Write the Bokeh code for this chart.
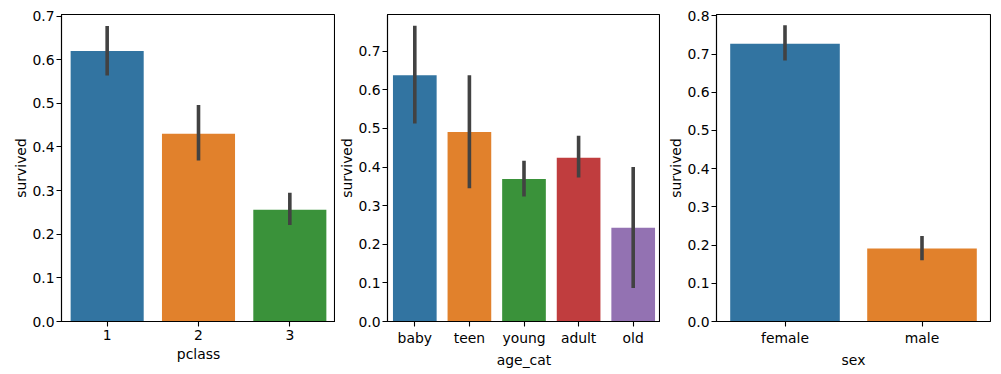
from bokeh.plotting import figure
from bokeh.layouts import row
from bokeh.models import Range1d, FactorRange, FixedTicker, NumeralTickFormatter
from bokeh.embed import file_html
from bokeh.resources import INLINE

# ---- data ----
pclass_cats = ["1", "2", "3"]
pclass_mean = [0.62, 0.43, 0.256]
pclass_lo = [0.564, 0.369, 0.221]
pclass_hi = [0.677, 0.496, 0.295]

age_cats = ["baby", "teen", "young", "adult", "old"]
age_mean = [0.638, 0.491, 0.369, 0.424, 0.243]
age_lo = [0.513, 0.345, 0.324, 0.373, 0.087]
age_hi = [0.766, 0.638, 0.416, 0.481, 0.400]

sex_cats = ["female", "male"]
sex_mean = [0.727, 0.191]
sex_lo = [0.683, 0.160]
sex_hi = [0.775, 0.224]

palette = ["#3274a1", "#e1812c", "#3a923a", "#c03d3e", "#9372b2"]

FONT = "DejaVu Sans"
FS = "13.9px"


def make_panel(cats, mean, lo, hi, xlabel, ymax, yticks, fw, left, right):
    p = figure(x_range=FactorRange(*cats), y_range=Range1d(0, ymax),
               frame_width=fw, frame_height=307, output_backend="svg", toolbar_location=None,
               min_border_left=left, min_border_right=right, min_border_top=14,
               min_border_bottom=40)
    p.vbar(x=cats, top=mean, width=0.8, fill_color=palette[:len(cats)], line_color=None)
    p.segment(x0=cats, y0=lo, x1=cats, y1=hi, line_color="#424242", line_width=3.6,
              line_cap="butt")
    p.xgrid.visible = False
    p.ygrid.visible = False
    p.outline_line_color = "black"
    p.outline_line_width = 1.1
    p.background_fill_color = "white"
    p.border_fill_color = None
    for ax in (p.xaxis[0], p.yaxis[0]):
        ax.axis_line_color = "black"
        ax.axis_line_width = 1.1
        ax.major_tick_line_color = "black"
        ax.major_tick_line_width = 1.1
        ax.major_tick_out = 5
        ax.major_tick_in = 0
        ax.minor_tick_line_color = None
        ax.major_label_text_font = FONT
        ax.major_label_text_font_size = FS
        ax.major_label_text_color = "black"
        ax.axis_label_text_font = FONT
        ax.axis_label_text_font_size = FS
        ax.axis_label_text_font_style = "normal"
        ax.axis_label_text_color = "black"
        ax.major_label_standoff = 3
        ax.axis_label_standoff = 3
    p.yaxis.major_label_standoff = 2
    p.yaxis.axis_label_standoff = 0
    p.xaxis.axis_label = xlabel
    p.yaxis.axis_label = "survived"
    p.yaxis.ticker = FixedTicker(ticks=yticks)
    p.yaxis.formatter = NumeralTickFormatter(format="0.0")
    return p


p1 = make_panel(pclass_cats, pclass_mean, pclass_lo, pclass_hi, "pclass", 0.7035,
                [0, 0.1, 0.2, 0.3, 0.4, 0.5, 0.6, 0.7], 274, 61, 0)
p2 = make_panel(age_cats, age_mean, age_lo, age_hi, "age_cat", 0.795,
                [0, 0.1, 0.2, 0.3, 0.4, 0.5, 0.6, 0.7], 273, 52, 0)
p3 = make_panel(sex_cats, sex_mean, sex_lo, sex_hi, "sex", 0.8034,
                [0, 0.1, 0.2, 0.3, 0.4, 0.5, 0.6, 0.7, 0.8], 274, 56, 1)

layout = row(p1, p2, p3, spacing=0)
open("out.html", "w").write(file_html(layout, INLINE))
